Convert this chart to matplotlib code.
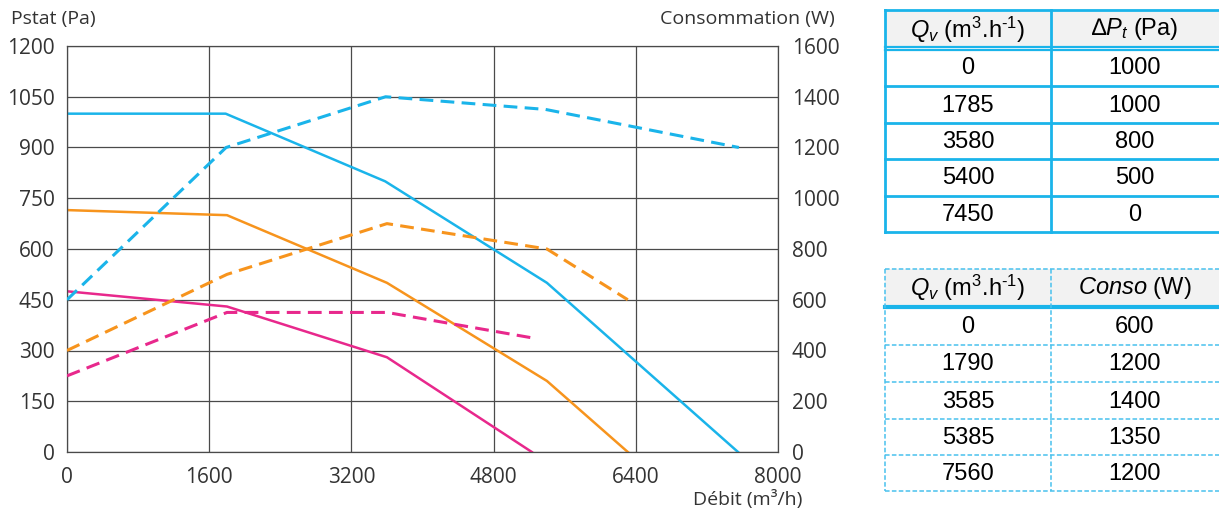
import matplotlib
matplotlib.use("Agg")
import matplotlib.pyplot as plt

plt.rcParams['mathtext.fontset'] = 'custom'
plt.rcParams['mathtext.rm'] = 'Liberation Sans'
plt.rcParams['mathtext.it'] = 'Liberation Sans:italic'

# ---- data ----
blue_p_x = [0, 1785, 3580, 5400, 7550]
blue_p_y = [1000, 1000, 800, 500, 0]
blue_w_x = [0, 1790, 3585, 5385, 7560]
blue_w_y = [600, 1200, 1400, 1350, 1200]

orange_p_x = [0, 1800, 3600, 5400, 6310]
orange_p_y = [715, 700, 500, 210, 0]
orange_w_x = [0, 1800, 3600, 5400, 6310]
orange_w_y = [400, 700, 900, 800, 600]

pink_p_x = [0, 1800, 3600, 5230]
pink_p_y = [475, 430, 280, 0]
pink_w_x = [0, 1800, 3600, 5230]
pink_w_y = [300, 550, 550, 450]

x_ticks = [0, 1600, 3200, 4800, 6400, 8000]
y_ticks = [0, 150, 300, 450, 600, 750, 900, 1050, 1200]
y2_ticks = [0, 200, 400, 600, 800, 1000, 1200, 1400, 1600]

table1_header = [r"$Q_v$ (m$^3$.h$^{\text{-}1}$)", r"$\mathit{∆ P_t}$ (Pa)"]
table1_q = ["0", "1785", "3580", "5400", "7450"]
table1_p = ["1000", "1000", "800", "500", "0"]
table2_header = [r"$Q_v$ (m$^3$.h$^{\text{-}1}$)", r"$\mathit{Conso}$ (W)"]
table2_q = ["0", "1790", "3585", "5385", "7560"]
table2_w = ["600", "1200", "1400", "1350", "1200"]

BLUE = "#1AB4EA"
ORANGE = "#F7941D"
PINK = "#E8288C"
GRID = "#4a4a4a"
TXT = "#333333"

W, H = 1219, 513
fig = plt.figure(figsize=(W / 100, H / 100), dpi=100)

# main axes: x 67..778, y 46..452 px
ax = fig.add_axes([67 / W, 1 - 452 / H, (778 - 67) / W, (452 - 46) / H])
ax.set_xlim(0, 8000)
ax.set_ylim(0, 1200)
ax.set_xticks(x_ticks)
ax.set_yticks(y_ticks)
ax.grid(True, color=GRID, lw=0.9)
for s in ax.spines.values():
    s.set_color(GRID)
    s.set_linewidth(0.9)
ax.tick_params(length=0, labelsize=15, labelcolor=TXT, pad=9)
ax.tick_params(axis='x', pad=11)
for lab in ax.get_xticklabels() + ax.get_yticklabels():
    lab.set_fontfamily('Open Sans')

ax2 = ax.twinx()
ax2.set_ylim(0, 1600)
ax2.set_yticks(y2_ticks)
ax2.tick_params(length=0, labelsize=15, labelcolor=TXT, pad=10)
for lab in ax2.get_yticklabels():
    lab.set_fontfamily('Open Sans')
for s in ax2.spines.values():
    s.set_visible(False)

dash = (0, (4.5, 2.4))
ax.plot(blue_p_x, blue_p_y, color=BLUE, lw=1.8)
ax.plot(orange_p_x, orange_p_y, color=ORANGE, lw=1.8)
ax.plot(pink_p_x, pink_p_y, color=PINK, lw=1.8)
ax2.plot(blue_w_x, blue_w_y, color=BLUE, lw=2.2, linestyle=dash)
ax2.plot(orange_w_x, orange_w_y, color=ORANGE, lw=2.2, linestyle=dash)
ax2.plot(pink_w_x, pink_w_y, color=PINK, lw=2.2, linestyle=dash)

fig.text(11 / W, 1 - 19 / H, "Pstat (Pa)", fontsize=14, family='Open Sans',
         color=TXT, va='center', ha='left')
fig.text(835 / W, 1 - 19 / H, "Consommation (W)", fontsize=14, family='Open Sans',
         color=TXT, va='center', ha='right')
fig.text(802 / W, 1 - 499 / H, "Débit (m³/h)", fontsize=14, family='Open Sans',
         color=TXT, va='center', ha='right')

# ---- tables (pixel coordinates) ----
tx = fig.add_axes([0, 0, 1, 1], zorder=-1)
tx.set_xlim(0, W)
tx.set_ylim(H, 0)
tx.axis('off')

L, M, R = 885, 1051, 1219
c1, c2 = (L + M) / 2, (M + R) / 2

def table_text(rows_y, header, col1, col2):
    ys = rows_y
    hy = (ys[0] + ys[1]) / 2
    tx.text(c1, hy, header[0], ha='center', va='center', fontsize=17,
            family='Liberation Sans', color='black')
    tx.text(c2, hy, header[1], ha='center', va='center', fontsize=17,
            family='Liberation Sans', color='black')
    for i in range(len(col1)):
        yc = (ys[i + 1] + ys[i + 2]) / 2 + 1
        tx.text(c1, yc, col1[i], ha='center', va='center', fontsize=17,
                family='Liberation Sans', color='black')
        tx.text(c2, yc, col2[i], ha='center', va='center', fontsize=17,
                family='Liberation Sans', color='black')

# table 1
t1 = [10, 47, 86, 123, 159, 196, 232]
tx.fill_between([L, R], t1[0], t1[1], color='#f2f2f2', lw=0)
tx.plot([L, R], [t1[0], t1[0]], color=BLUE, lw=2)
tx.plot([L, R], [46.5, 46.5], color=BLUE, lw=1.6)
tx.plot([L, R], [50, 50], color=BLUE, lw=1.6)
for y in t1[2:]:
    tx.plot([L, R], [y, y], color=BLUE, lw=2)
tx.plot([L, L], [t1[0], t1[-1]], color=BLUE, lw=2)
tx.plot([M, M], [t1[0], t1[-1]], color=BLUE, lw=2)
table_text([t1[0], t1[1] + 2] + t1[2:], table1_header, table1_q, table1_p)

# table 2
t2 = [269, 307, 345, 382, 419, 455, 491]
DBL = "#49C1EE"
tx.fill_between([L, R], t2[0], t2[1], color='#f2f2f2', lw=0)
tx.plot([L, R], [t2[0], t2[0]], color=DBL, lw=1.1, linestyle=(0, (3, 1.5)))
tx.plot([L, R], [t2[1], t2[1]], color=BLUE, lw=3)
for y in t2[2:]:
    tx.plot([L, R], [y, y], color=DBL, lw=1.1, linestyle=(0, (3, 1.5)))
tx.plot([L, L], [t2[0], t2[-1]], color=DBL, lw=1.1, linestyle=(0, (3, 1.5)))
tx.plot([M, M], [t2[0], t2[-1]], color=DBL, lw=1.1, linestyle=(0, (3, 1.5)))
table_text(t2, table2_header, table2_q, table2_w)

fig.savefig("out.png", dpi=100)
